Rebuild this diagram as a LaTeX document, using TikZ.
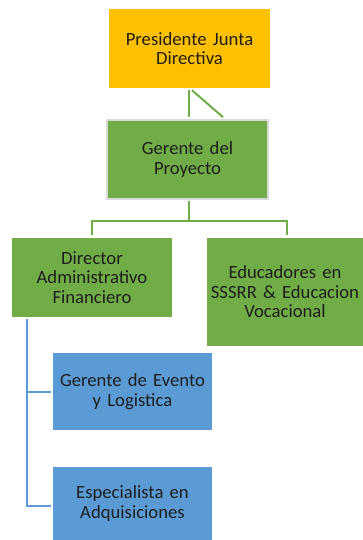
\documentclass[tikz,border=0pt]{standalone}
\usepackage{fontspec}
\setmainfont{Carlito}
\usetikzlibrary{calc}
\definecolor{orgorange}{HTML}{FFC000}
\definecolor{orggreen}{HTML}{70AD47}
\definecolor{orgblue}{HTML}{5B9BD5}
\definecolor{orgborder}{HTML}{DADADA}
\definecolor{orgtext}{HTML}{1E1E1E}
\tikzset{
  orgbox/.style={inner sep=0pt, align=center, text=orgtext,
    font=\fontsize{14}{14.6}\selectfont},
  greenline/.style={draw=orggreen, line width=1.5pt},
  blueline/.style={draw=orgblue, line width=1.5pt},
}
\begin{document}
\begin{tikzpicture}[x=0.75pt,y=-0.75pt]
\useasboundingbox (0,0) rectangle (363,540);
\node[orgbox, fill=orgorange, minimum width=161*0.75pt, minimum height=79*0.75pt, text width=155*0.75pt] (pres) at (189.5,48.5) {Presidente Junta\\Directiva};
\node[orgbox, fill=orggreen, draw=orgborder, line width=1.2pt, minimum width=161*0.75pt, minimum height=79*0.75pt, text width=155*0.75pt] (ger) at (187.5,159.5) {Gerente del\\Proyecto};
\node[orgbox, fill=orggreen, minimum width=160*0.75pt, minimum height=79*0.75pt, text width=155*0.75pt] (dir) at (92,277.5) {Director\\Administrativo\\Financiero};
\node[orgbox, fill=orggreen, minimum width=156*0.75pt, minimum height=108*0.75pt, text width=156*0.75pt] (edu) at (285,292) {Educadores en\\SSSRR \& Educacion\\Vocacional};
\node[orgbox, fill=orgblue, minimum width=159*0.75pt, minimum height=77*0.75pt, text width=155*0.75pt] (gev) at (132.5,391.5) {Gerente de Evento\\y Logistica};
\node[orgbox, fill=orgblue, minimum width=159*0.75pt, minimum height=73*0.75pt, text width=155*0.75pt] (esp) at (132.5,503.5) {Especialista en\\Adquisiciones};
% top connectors
\coordinate (pA) at ($(pres.south)+(0,2)$);
\coordinate (gA) at ($(ger.north)+(1.5,-2)$);
\draw[greenline] (pA -| gA) -- (gA);
\coordinate (pB) at ($(pres.south)+(2.5,2)$);
\coordinate (gB) at ($(ger.north)+(35.5,-2)$);
\draw[greenline] (pB) -- (gB);
% gerente to directors
\coordinate (gS) at ($(ger.south)+(1.5,1)$);
\coordinate (bar) at (0,221);
\coordinate (dT) at ($(dir.north)+(0,-3)$);
\coordinate (eT) at ($(edu.north)+(2,-3)$);
\draw[greenline] (gS) -- (gS |- bar);
\draw[greenline] (dT) -- (dT |- bar) -- (eT |- bar) -- (eT);
% blue connectors
\coordinate (dS) at ($(dir.south west)+(15,2)$);
\coordinate (gW) at ($(gev.west)+(-2,0)$);
\coordinate (sW) at ($(esp.west)+(-2,2.5)$);
\draw[blueline] (dS) -- (dS |- sW) -- (sW);
\draw[blueline] (dS |- gW) -- (gW);
\end{tikzpicture}
\end{document}
